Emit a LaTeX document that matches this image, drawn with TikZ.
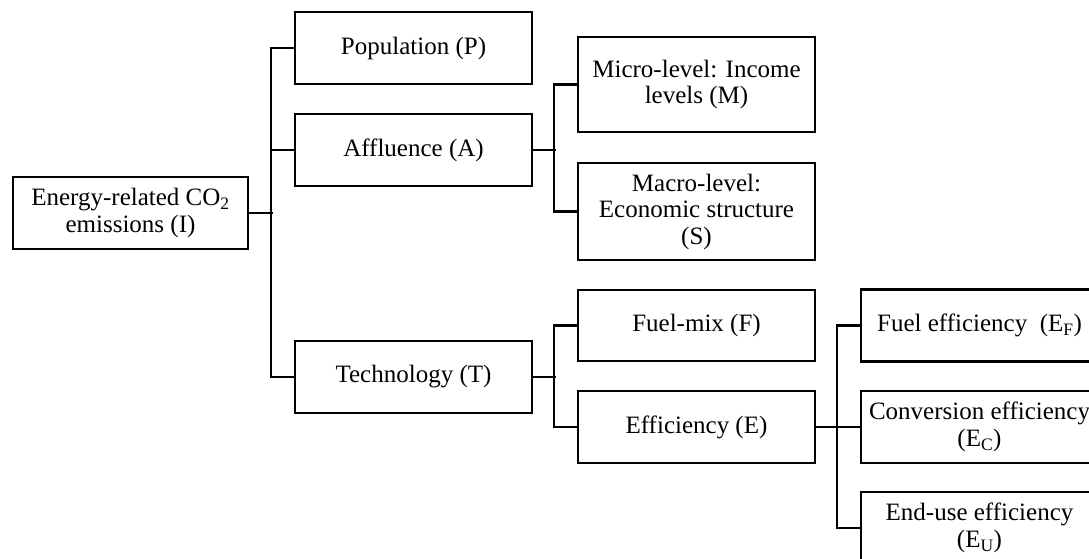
\documentclass[tikz,border=0pt]{standalone}
\usepackage{fontspec}
\setmainfont{Liberation Serif}
\begin{document}
\begin{tikzpicture}[x=1pt,y=-1pt,
  box/.style={draw=black,line width=2.3pt,minimum width=237pt,inner sep=0pt,align=center,
    font=\fontsize{25}{26.5}\selectfont},
  link/.style={draw=black,line width=2.3pt}]
\useasboundingbox (0,0) rectangle (1089,559);
\clip (0,0) rectangle (1089,559);
\fill[white] (0,0) rectangle (1089,559);
% level 0
\node[box,minimum width=235pt,minimum height=72pt] (I) at (130.5,213) {Energy-related\ CO\textsubscript{2}\\emissions (I)};
% level 1
\node[box,minimum height=72pt] (P) at (413.5,48) {Population (P)};
\node[box,minimum height=72pt] (A) at (413.5,150) {Affluence (A)};
\node[box,minimum height=72pt] (T) at (413.5,377) {Technology\ (T)};
% level 2
\node[box,minimum height=95pt] (M) at (696.5,84.5) {Micro-level: Income\\levels (M)};
\node[box,minimum height=97pt] (S) at (696.5,211.5) {Macro-level:\\Economic structure\\(S)};
\node[box,minimum height=71pt] (F) at (696.5,325.5) {Fuel-mix (F)};
\node[box,minimum height=72pt] (E) at (696.5,427) {Efficiency\ (E)};
% level 3
\node[box,minimum height=72pt] (EF) at (979.5,325.5) {Fuel efficiency\ \ (E\textsubscript{F})};
\node[box,minimum height=72pt] (EC) at (979.5,427) {Conversion efficiency\\(E\textsubscript{C})};
\node[box,minimum height=72pt] (EU) at (979.5,528) {End-use efficiency\\(E\textsubscript{U})};
% connectors
\draw[link] (I.east) -- ++(24,0);
\draw[link] (P.west) -- ++(-23,0) |- (T.west);
\draw[link] (A.west) -- ++(-23,0);
\draw[link] (A.east) -- ++(23,0);
\draw[link] (M.west) -- ++(-23,0) |- (S.west);
\draw[link] (T.east) -- ++(23,0);
\draw[link] (F.west) -- ++(-23,0) |- (E.west);
\draw[link] (E.east) -- ++(23,0);
\draw[link] (EF.west) -- ++(-23,0) |- (EU.west);
\draw[link] (EC.west) -- ++(-23,0);
\end{tikzpicture}
\end{document}
